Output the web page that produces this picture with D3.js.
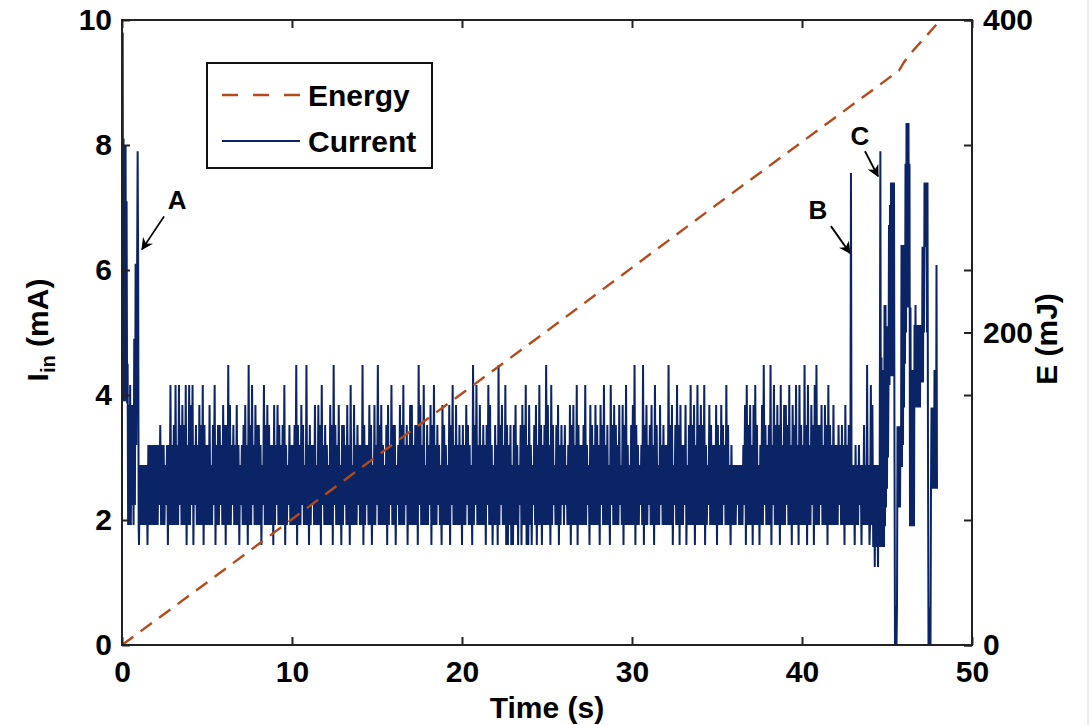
<!DOCTYPE html>
<html><head><meta charset="utf-8">
<script src="https://cdn.jsdelivr.net/npm/d3@7/dist/d3.min.js"></script>
<style>
html,body{margin:0;padding:0;background:#fff;}
svg text{font-family:"Liberation Sans",Arial,sans-serif;font-weight:bold;fill:#000;}
</style></head>
<body>
<svg id="chart" width="1091" height="725"></svg>
<script>
// ---------------- DATA ----------------
const xTicks = [0, 10, 20, 30, 40, 50];
const yTicks = [0, 2, 4, 6, 8, 10];
const eTicks = [0, 200, 400];

// quantised current levels (mA) used by the band codes
const levels = [1.6, 1.92, 2.24, 2.56, 2.88, 3.2, 3.52, 3.84, 4.16, 4.48];

// start-up transient  [t (s), I (mA)]
const startSamples = [[0.00,8.1],[0.04,9.8],[0.07,4.0],[0.09,8.1],[0.11,3.9],[0.13,8.0],[0.15,7.1],[0.18,3.9],[0.21,8.0],
  [0.24,4.5],[0.27,7.1],[0.30,3.87],[0.33,4.5],[0.36,1.92],[0.40,3.84],[0.44,1.92],[0.48,4.16],[0.52,1.92],
  [0.56,3.84],[0.60,2.24],[0.64,3.84],[0.68,1.92],[0.72,4.9],[0.76,2.24],[0.80,6.1],[0.84,3.2],[0.88,5.5],
  [0.92,7.9],[0.95,6.1],[0.98,1.92]];

// steady band, one code per 0.1 s from t = 1.0 s : high and low level of each interval
const bandT0 = 1.0, bandDt = 0.1;
const bandHigh = [
 "4444455555","5565545585","6858676858","7856576865","5746856657","6697565754","5675968576","6548676557",
 "5765685465","5696576495","6557476856","5476965746","6575847565","5965576475","9675467586","6457685657",
 "7566975846","5768565476","5476857565","6576549685","7565687546","5967586564","6754676857","5467586569",
 "7586467565","6457675865","5685476576","5768564867","6574768546","7965459675","6758647565","5967468675",
 "5746867586","7685476557","6576586454","4444457867","5786457965","6958676857","7685768586","5968576896",
 "6757686575","56565756"].join("");
const bandLow = [
 "0111101111","1121112011","1111211101","1202111101","1111201121","1011121110","2111011211","1102111110",
 "1211110121","1110112111","0121111021","1111021110","1211011112","1101211011","2111110121","1021111201",
 "1111021111","1201112101","1110211111","0112110121","1111021101","1012110010","0110201100","1021011011",
 "1101211012","1211011101","1111201111","1021111021","1112101111","1101121011","2110111211","1111021101",
 "1201111011","1110121111","0111211101","1121112011","1011101121","1102111011","1211011101","1110112011",
 "1211101111","11211011"].join("");

// final part with spikes B, C and the large oscillations  [t (s), I (mA)]
const endSamples = [[42.80,1.92],[42.85,3.2],[42.88,7.55],[42.92,1.92],[42.95,2.88],[43.00,1.92],[43.05,2.88],
  [43.10,1.6],[43.15,3.2],[43.20,1.92],[43.25,2.88],[43.30,1.92],[43.35,3.2],[43.40,2.24],[43.45,2.88],
  [43.50,1.6],[43.55,2.88],[43.60,1.92],[43.65,3.52],[43.70,1.92],[43.75,2.88],[43.80,1.92],[43.83,4.48],
  [43.87,1.92],[43.92,2.88],[43.97,1.6],[44.00,1.92],[44.05,4.16],[44.09,1.92],[44.14,3.84],[44.19,1.57],
  [44.24,2.88],[44.28,1.25],[44.33,2.88],[44.38,1.57],[44.42,2.88],[44.47,1.25],[44.52,2.88],[44.56,1.57],
  [44.61,7.9],[44.647,1.57],[44.676,4.6],[44.706,1.57],[44.735,2.88],[44.765,1.57],[44.794,4.4],[44.824,1.57],
  [44.853,5.44],[44.882,1.9],[44.912,5.44],[44.941,2.2],[44.971,5.1],[45.000,2.5],[45.029,5.1],[45.059,3.0],
  [45.088,4.16],[45.118,6.72],[45.147,4.16],[45.176,7.04],[45.206,4.3],[45.235,7.4],[45.265,4.3],[45.294,7.4],
  [45.324,4.3],[45.353,7.4],[45.382,4.3],[45.412,7.4],[45.441,3.0],[45.471,0.0],[45.500,0.6],[45.529,0.6],
  [45.559,0.0],[45.588,0.6],[45.618,3.5],[45.647,2.2],[45.676,3.5],[45.706,2.2],[45.735,3.5],[45.765,2.2],
  [45.794,3.5],[45.824,2.85],[45.853,6.4],[45.882,2.85],[45.912,6.4],[45.941,3.2],[45.971,6.4],[46.000,3.8],
  [46.029,6.4],[46.059,4.5],[46.088,7.7],[46.118,5.0],[46.147,8.35],[46.176,5.4],[46.206,8.35],[46.235,5.4],
  [46.265,8.35],[46.294,5.4],[46.324,7.7],[46.353,1.9],[46.382,5.4],[46.412,1.9],[46.441,4.4],[46.471,1.9],
  [46.500,4.4],[46.529,1.9],[46.559,4.4],[46.588,1.9],[46.618,5.12],[46.647,3.8],[46.676,5.44],[46.706,3.8],
  [46.735,5.12],[46.765,3.8],[46.794,5.12],[46.824,3.8],[46.853,5.12],[46.882,3.8],[46.912,5.12],[46.941,3.8],
  [46.971,5.12],[47.000,4.2],[47.029,5.12],[47.059,4.2],[47.088,6.37],[47.118,4.2],[47.147,6.37],[47.176,5.0],
  [47.206,7.4],[47.235,6.37],[47.265,7.4],[47.294,6.37],[47.324,7.04],[47.353,5.0],[47.382,7.4],[47.412,3.0],
  [47.441,0.0],[47.471,0.6],[47.500,0.0],[47.529,0.6],[47.559,0.0],[47.588,2.5],[47.618,3.8],[47.647,2.5],
  [47.676,3.8],[47.706,2.5],[47.735,3.8],[47.765,2.5],[47.794,4.4],[47.824,2.85],[47.853,4.4],[47.882,2.5],
  [47.912,6.08],[47.941,2.5]];

// energy (mJ)
const energyT = [0, 5, 10, 15, 20, 25, 30, 35, 40, 45, 45.7, 46.0, 46.5, 47.0, 47.9];
const energyE = [0, 40, 80.5, 121, 161, 201, 241.5, 282, 322, 362, 367.5, 373, 380, 386, 397];

// annotations: arrow tip in data units
const labels = [{txt:"A", t:1.18, i:6.33}, {txt:"B", t:42.82, i:6.27}, {txt:"C", t:44.47, i:7.5}];

// ---------------- CHART ----------------
const svg = d3.select("#chart");
const L = 122, R = 972, T = 20, B = 645;
const x = d3.scaleLinear().domain([0, 50]).range([L, R]);
const y = d3.scaleLinear().domain([0, 10]).range([B, T]);
const yE = d3.scaleLinear().domain([0, 400]).range([B, T]);
const fs = 30;
const FONT = '"Liberation Sans",Arial,sans-serif';

const defs = svg.append("defs");
defs.append("clipPath").attr("id","clip")
  .append("rect").attr("x",L).attr("y",T-1).attr("width",R-L).attr("height",B-T+2);

// build current trace
const cur = startSamples.slice();
const n = Math.min(bandHigh.length, bandLow.length);
for (let i = 0; i < n; i++) {
  const t = bandT0 + i * bandDt;
  cur.push([t, levels[+bandLow[i]]]);
  cur.push([t + bandDt / 2, levels[+bandHigh[i]]]);
}
endSamples.forEach(p => cur.push(p));

const plot = svg.append("g").attr("clip-path","url(#clip)");
plot.append("path")
  .attr("d", d3.line().x(d => x(d[0])).y(d => y(d[1]))(cur))
  .attr("fill","none").attr("stroke","#0b2466").attr("stroke-width",2);

plot.append("path")
  .attr("d", d3.line().x((d,i) => x(energyT[i])).y(d => yE(d))(energyE))
  .attr("fill","none").attr("stroke","#b24a1c").attr("stroke-width",2.4)
  .attr("stroke-dasharray","14,9");

// axes
function styleAxis(g){
  g.select(".domain").remove();
  g.selectAll(".tick line").attr("stroke","#222").attr("stroke-width",2);
  g.selectAll(".tick text").style("font-size", fs+"px").style("font-family",FONT)
    .style("font-weight","bold").attr("fill","#000");
}
svg.append("g").attr("transform",`translate(0,${B})`)
  .call(d3.axisBottom(x).tickValues(xTicks).tickSize(-8).tickPadding(16).tickFormat(d3.format("d")))
  .call(styleAxis);
svg.append("g").attr("transform",`translate(0,${T})`)
  .call(d3.axisTop(x).tickValues(xTicks).tickSize(-8).tickFormat(""))
  .call(styleAxis);
svg.append("g").attr("transform",`translate(${L},0)`)
  .call(d3.axisLeft(y).tickValues(yTicks).tickSize(-8).tickPadding(10).tickFormat(d3.format("d")))
  .call(styleAxis);
svg.append("g").attr("transform",`translate(${R},0)`)
  .call(d3.axisRight(y).tickValues(yTicks).tickSize(-8).tickFormat(""))
  .call(styleAxis);
svg.append("g").attr("transform",`translate(${R},0)`)
  .call(d3.axisRight(yE).tickValues(eTicks).tickSize(-8).tickPadding(11).tickFormat(d3.format("d")))
  .call(styleAxis);

svg.append("rect").attr("x",L).attr("y",T).attr("width",R-L).attr("height",B-T)
  .attr("fill","none").attr("stroke","#222").attr("stroke-width",2);

// axis titles
svg.append("text").attr("x",(L+R)/2).attr("y",718).attr("text-anchor","middle")
  .style("font-size",fs+"px").text("Time (s)");
const yl = svg.append("text").attr("transform","translate(48,330) rotate(-90)").attr("text-anchor","middle")
  .style("font-size",fs+"px");
yl.append("tspan").text("I");
yl.append("tspan").attr("dy",7).style("font-size","20px").text("in");
yl.append("tspan").attr("dy",-7).text(" (mA)");
svg.append("text").attr("transform","translate(1057,339) rotate(-90)").attr("text-anchor","middle")
  .style("font-size",fs+"px").text("E (mJ)");

// legend
const lg = svg.append("g");
lg.append("rect").attr("x",207).attr("y",63).attr("width",225).attr("height",105)
  .attr("fill","#fff").attr("stroke","#111").attr("stroke-width",2);
lg.append("line").attr("x1",222).attr("x2",300).attr("y1",95).attr("y2",95)
  .attr("stroke","#b24a1c").attr("stroke-width",2.4).attr("stroke-dasharray","16,15");
lg.append("line").attr("x1",222).attr("x2",300).attr("y1",141).attr("y2",141)
  .attr("stroke","#0b2466").attr("stroke-width",2);
lg.append("text").attr("x",308).attr("y",106).style("font-size",fs+"px").text("Energy");
lg.append("text").attr("x",308).attr("y",152).style("font-size",fs+"px").text("Current");

// annotations
defs.append("marker").attr("id","ah").attr("viewBox","0 0 10 10")
  .attr("refX",9).attr("refY",5).attr("markerWidth",12).attr("markerHeight",12)
  .attr("markerUnits","userSpaceOnUse").attr("orient","auto")
  .append("path").attr("d","M0,0 L10,5 L0,10 L3,5 Z").attr("fill","#000");
const offs = {A:{sx:22, sy:-33, tx:35, ty:-40}, B:{sx:-19, sy:-27, tx:-32, ty:-34}, C:{sx:-13, sy:-25, tx:-18, ty:-31}};
labels.forEach(a => {
  const px = x(a.t), py = y(a.i), o = offs[a.txt];
  svg.append("line").attr("x1",px+o.sx).attr("y1",py+o.sy).attr("x2",px).attr("y2",py)
    .attr("stroke","#000").attr("stroke-width",1.8).attr("marker-end","url(#ah)");
  svg.append("text").attr("x",px+o.tx).attr("y",py+o.ty)
    .attr("text-anchor","middle").style("font-size","26px").text(a.txt);
});

// image edge line
svg.append("line").attr("x1",1088).attr("x2",1088).attr("y1",0).attr("y2",725)
  .attr("stroke","#d8d8d8").attr("stroke-width",1);
</script>
</body></html>
